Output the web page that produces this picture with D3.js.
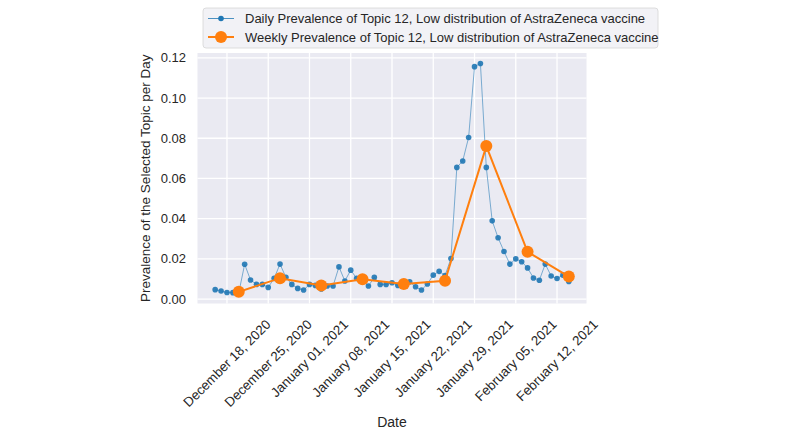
<!DOCTYPE html>
<html><head><meta charset="utf-8">
<script src="https://cdn.jsdelivr.net/npm/d3@7"></script>
<style>body{margin:0;background:#fff;} svg{display:block;font-family:"Liberation Sans",Arial,sans-serif;}</style>
</head><body><svg id="c" width="800" height="437"></svg>
<script>
const dailyStart = "2020-12-16";
const dailyValues = [
  0.0047,0.0040,0.0033,0.0032,0.0031,0.0173,0.0095,0.0073,0.0073,0.0058,0.0103,0.0174,0.0108,0.0073,0.0053,0.0045,
  0.0073,0.0068,0.0050,0.0065,0.0065,0.0160,0.0090,0.0144,0.0103,0.0095,0.0065,0.0108,0.0073,0.0073,0.0081,0.0068,
  0.0072,0.0086,0.0061,0.0045,0.0075,0.0119,0.0138,0.0117,0.0202,0.0655,0.0687,0.0804,0.1156,0.1172,0.0655,
  0.0389,0.0305,0.0237,0.0174,0.0200,0.0186,0.0155,0.0105,0.0094,0.0174,0.0115,0.0102,0.0119,0.0088
];
const weeklyDates = ["2020-12-20","2020-12-27","2021-01-03","2021-01-10","2021-01-17","2021-01-24","2021-01-31","2021-02-07","2021-02-14"];
const weeklyValues = [0.0036,0.0104,0.0068,0.0099,0.0075,0.0091,0.0761,0.0235,0.0112];
const xTickDates = ["2020-12-18","2020-12-25","2021-01-01","2021-01-08","2021-01-15","2021-01-22","2021-01-29","2021-02-05","2021-02-12"];
const yTicks = [0.00,0.02,0.04,0.06,0.08,0.10,0.12];
const legendLabels = ["Daily Prevalence of Topic 12, Low distribution of AstraZeneca vaccine",
                      "Weekly Prevalence of Topic 12, Low distribution of AstraZeneca vaccine"];
const xLabel = "Date";
const yLabel = "Prevalence of the Selected Topic per Day";

const parse = d3.utcParse("%Y-%m-%d");
const fmt = d3.utcFormat("%B %d, %Y");
const start = parse(dailyStart);
const daily = dailyValues.map((v,i)=>({d:d3.utcDay.offset(start,i), v}));
const weekly = weeklyValues.map((v,i)=>({d:parse(weeklyDates[i]), v}));

const L=197.5,R=586.5,T=53,B=303.5;
const x = d3.scaleUtc().domain([parse("2020-12-13"),parse("2021-02-17")]).range([L,R]);
const y = d3.scaleLinear().domain([-0.0022,0.1224]).range([B,T]);

const svg = d3.select("#c");
const txt = "#262626";
svg.append("rect").attr("x",L).attr("y",T).attr("width",R-L).attr("height",B-T).attr("fill","#EAEAF2");

// grid
svg.append("g").selectAll("line").data(yTicks).join("line")
  .attr("x1",L).attr("x2",R).attr("y1",d=>y(d)).attr("y2",d=>y(d))
  .attr("stroke","#fff").attr("stroke-width",1.3);
svg.append("g").selectAll("line").data(xTickDates).join("line")
  .attr("x1",d=>x(parse(d))).attr("x2",d=>x(parse(d))).attr("y1",T).attr("y2",B)
  .attr("stroke","#fff").attr("stroke-width",1.3);

// y tick labels
svg.append("g").selectAll("text").data(yTicks).join("text")
  .attr("x",186).attr("y",d=>y(d)).attr("dy","0.35em").attr("text-anchor","end")
  .attr("font-size",13).attr("fill",txt).text(d=>d.toFixed(2));

// x tick labels rotated
const xl = svg.append("g");
xTickDates.forEach(s=>{
  const t = xl.append("text").attr("font-size",13.3).attr("fill",txt)
    .attr("text-anchor","middle").attr("dominant-baseline","central").text(fmt(parse(s)));
  const w = t.node().getComputedTextLength();
  const h = 13;
  const half = (w+h)*Math.SQRT1_2/2;
  t.attr("transform",`translate(${x(parse(s))},${B+14+half}) rotate(-45)`);
});

svg.append("text").attr("x",(L+R)/2).attr("y",427).attr("text-anchor","middle")
  .attr("font-size",14).attr("fill",txt).text(xLabel);
svg.append("text").attr("transform",`translate(150,${(T+B)/2}) rotate(-90)`).attr("text-anchor","middle")
  .attr("font-size",13.5).attr("fill",txt).text(yLabel);

const blue="#1f77b4", orange="#ff7f0e";
const line = d3.line().x(d=>x(d.d)).y(d=>y(d.v));
svg.append("path").datum(daily).attr("d",line).attr("fill","none").attr("stroke",blue).attr("stroke-width",0.7).attr("opacity",0.8);
svg.append("g").selectAll("circle").data(daily).join("circle")
  .attr("cx",d=>x(d.d)).attr("cy",d=>y(d.v)).attr("r",2.8).attr("fill",blue).attr("opacity",0.9);
svg.append("path").datum(weekly).attr("d",line).attr("fill","none").attr("stroke",orange).attr("stroke-width",2);
svg.append("g").selectAll("circle").data(weekly).join("circle")
  .attr("cx",d=>x(d.d)).attr("cy",d=>y(d.v)).attr("r",6).attr("fill",orange);

// legend
const lg = svg.append("g");
lg.append("rect").attr("x",203).attr("y",8).attr("width",455).attr("height",40).attr("rx",3)
  .attr("fill","#F2F2F6").attr("stroke","#d6d6d6").attr("stroke-width",0.8);
const rows=[18.5,37];
lg.append("line").attr("x1",208).attr("x2",234).attr("y1",rows[0]).attr("y2",rows[0]).attr("stroke",blue).attr("stroke-width",0.8);
lg.append("circle").attr("cx",221).attr("cy",rows[0]).attr("r",2.8).attr("fill",blue);
lg.append("line").attr("x1",208).attr("x2",234).attr("y1",rows[1]).attr("y2",rows[1]).attr("stroke",orange).attr("stroke-width",2);
lg.append("circle").attr("cx",221).attr("cy",rows[1]).attr("r",6).attr("fill",orange);
legendLabels.forEach((s,i)=>{
  lg.append("text").attr("x",245).attr("y",rows[i]).attr("dy","0.35em").attr("font-size",13).attr("fill",txt).text(s);
});
</script></body></html>
